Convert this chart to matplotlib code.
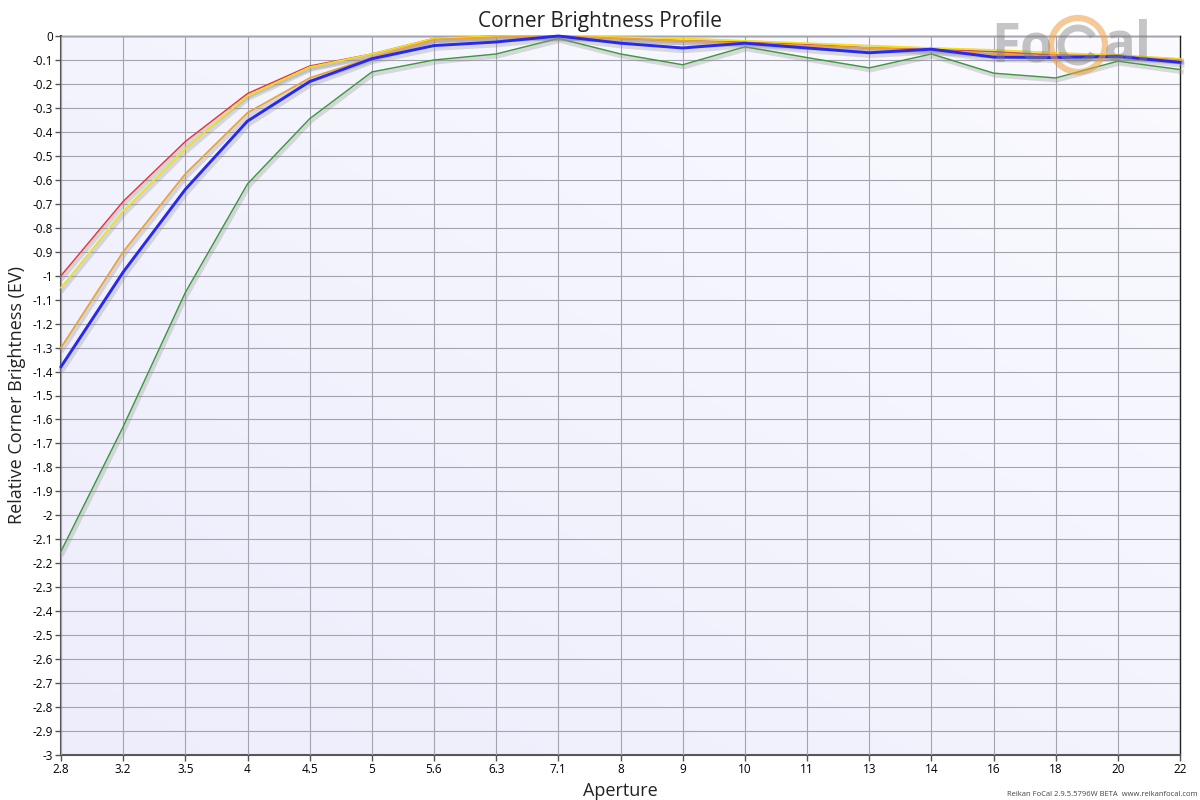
import numpy as np
import matplotlib
matplotlib.use("Agg")
import matplotlib.pyplot as plt
import matplotlib.patheffects as pe
from matplotlib.patches import Ellipse, Arc

plt.rcParams["font.family"] = ["Open Sans", "DejaVu Sans"]

# ── Data ─────────────────────────────────────────────────────────────
apertures = ["2.8", "3.2", "3.5", "4", "4.5", "5", "5.6", "6.3", "7.1", "8",
             "9", "10", "11", "13", "14", "16", "18", "20", "22"]

red = [-1.00, -0.69, -0.44, -0.24, -0.125, -0.075, -0.01, 0.0, 0.0, -0.01,
       -0.02, -0.025, -0.035, -0.05, -0.055, -0.065, -0.08, -0.08, -0.10]
yellow = [-1.05, -0.73, -0.47, -0.25, -0.13, -0.075, -0.01, 0.0, 0.0, -0.005,
          -0.01, -0.02, -0.03, -0.04, -0.05, -0.058, -0.07, -0.08, -0.095]
orange = [-1.30, -0.90, -0.575, -0.32, -0.175, -0.09, -0.015, -0.005, 0.0, -0.01,
          -0.02, -0.03, -0.04, -0.05, -0.06, -0.075, -0.085, -0.085, -0.10]
blue = [-1.38, -0.985, -0.64, -0.355, -0.19, -0.095, -0.04, -0.025, 0.0, -0.03,
        -0.05, -0.03, -0.05, -0.07, -0.055, -0.088, -0.09, -0.085, -0.11]
green = [-2.15, -1.63, -1.07, -0.617, -0.345, -0.15, -0.10, -0.075, -0.01, -0.075,
         -0.12, -0.045, -0.09, -0.133, -0.075, -0.155, -0.175, -0.105, -0.14]

series = [
    (green, "#3a9a3a", 1.0),
    (red, "#f03030", 1.0),
    (yellow, "#f0e020", 1.2),
    (orange, "#f0a030", 1.2),
    (blue, "#2828f0", 2.1),
]

# ── Figure ───────────────────────────────────────────────────────────
fig = plt.figure(figsize=(12, 8), dpi=100)
ax = fig.add_axes([61 / 1200, 45 / 800, 1119 / 1200, 719 / 800])

x = np.arange(len(apertures))

# soft lavender gradient background
grad = np.linspace(0, 1, 256)
gx, gy = np.meshgrid(grad, grad)
g = (gx + (1 - gy)) / 2
c0 = np.array([0.93, 0.93, 0.99])
c1 = np.array([0.98, 0.98, 1.0])
img = c0[None, None, :] * (1 - g[..., None]) + c1[None, None, :] * g[..., None]
ax.imshow(img, extent=[0, 1, 0, 1], transform=ax.transAxes, aspect="auto",
          zorder=0, origin="upper")

ax.set_xlim(0, len(apertures) - 1)
ax.set_ylim(-3, 0)
ax.set_xticks(x)
ax.set_xticklabels(apertures)
yt = np.round(np.arange(-3, 0.001, 0.1), 1)
ax.set_yticks(yt)
ax.set_yticklabels(["0" if v == 0 else ("%g" % v) for v in yt])
ax.tick_params(labelsize=8.5, length=4, width=1, color="#555555", pad=2)
ax.grid(True, color="#a4a4ae", linewidth=0.8, zorder=1)
ax.set_axisbelow(False)

for data, color, lw in series:
    ax.plot(x, data, color=color, linewidth=lw, zorder=3, clip_on=False,
            path_effects=[pe.SimpleLineShadow(offset=(1, -1.5), shadow_color="#909090",
                                              alpha=0.3, linewidth=lw + 2.5),
                          pe.Normal()])

for side in ["top", "right"]:
    ax.spines[side].set_color("#222222")
    ax.spines[side].set_linewidth(1.0)
for side in ["left", "bottom"]:
    ax.spines[side].set_color("#555555")
    ax.spines[side].set_linewidth(1.5)

fig.text(0.5, 1 - 21 / 800, "Corner Brightness Profile", fontsize=15,
         color="#222222", ha="center", va="center")
ax.set_xlabel("Aperture", fontsize=13, labelpad=4, color="#222222")
ax.set_ylabel("Relative Corner Brightness (EV)", fontsize=13, labelpad=4, color="#222222")

# FoCal watermark
fig.text(1022 / 1200, 1 - 47 / 800, "Fo", fontsize=38, color="#808080", alpha=0.45,
         ha="center", va="center", fontweight="bold", zorder=5)
fig.text(1128 / 1200, 1 - 45 / 800, "al", fontsize=38, color="#808080", alpha=0.45,
         ha="center", va="center", fontweight="bold", zorder=5)
fig.add_artist(Ellipse((1078 / 1200, 1 - 45 / 800), 54 / 1200, 54 / 800,
                       transform=fig.transFigure, fill=False, edgecolor="#f0a040",
                       linewidth=4.5, alpha=0.55, zorder=5))
fig.add_artist(Arc((1078 / 1200, 1 - 45 / 800), 34 / 1200, 34 / 800,
                   theta1=40, theta2=320, transform=fig.transFigure,
                   edgecolor="#808080", linewidth=5, alpha=0.45, zorder=5))

fig.text(0.998, 0.003, "Reikan FoCal 2.9.5.5796W BETA  www.reikanfocal.com",
         fontsize=5.5, color="#444444", ha="right", va="bottom")

fig.savefig("out.png", dpi=100)
